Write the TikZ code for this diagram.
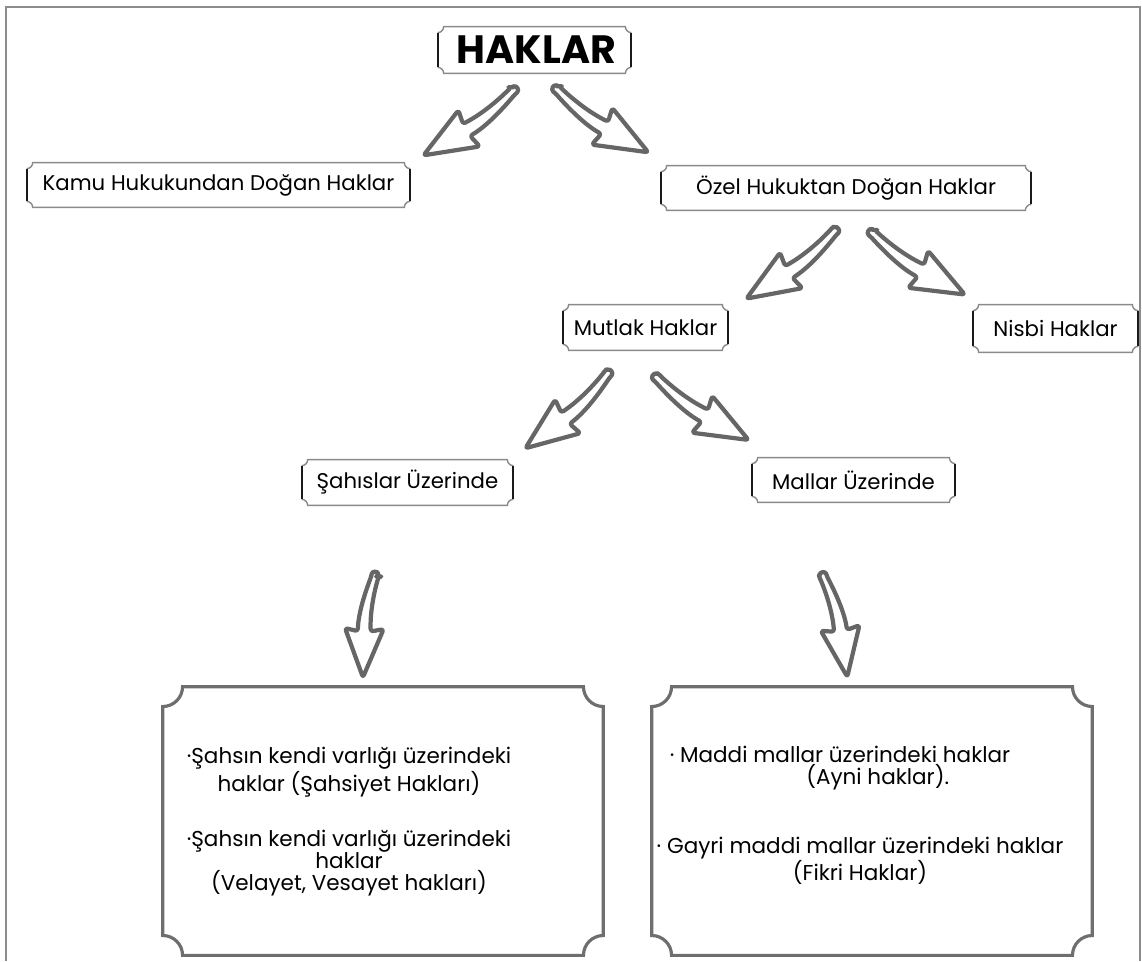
\documentclass[tikz,border=0pt]{standalone}
\usepackage{fontspec}
\setmainfont{Poppins}
\usetikzlibrary{calc}
\definecolor{arrgray}{HTML}{666666}
\definecolor{boxgray}{HTML}{6E6E6E}
\definecolor{thingray}{HTML}{8A8A8A}
\definecolor{sideblack}{HTML}{1A1A1A}
\tikzset{
  arrowline/.style={draw=arrgray, fill=white, line width=2.4pt, line join=round, rounded corners=1.5pt},
  txt/.style={inner sep=0pt, font=\fontsize{12.1}{14}\selectfont, text=black},
  slot/.style={inner sep=0pt, shape=rectangle},
  bigtxt/.style={inner sep=0pt, align=center, font=\fontsize{12.25}{12.4}\selectfont, text=black},
  topline/.style={draw=thingray, line width=0.8pt},
  sideline/.style={draw=sideblack, line width=1.2pt},
  bigline/.style={draw=boxgray, line width=1.8pt},
  frameline/.style={draw=black!45, line width=1pt}
}
\newcommand\hollowarr{%
  \draw[arrowline] (-53,9) .. controls (-30,3) and (-10,1) .. (7,2) -- (4,16) -- (57,-5)
    -- (4,-26) -- (7,-12) .. controls (-10,-12) and (-30,-7) .. (-53,1)
    .. controls (-59,2) and (-59,8) .. cycle;}
\newcommand\plaqsmall[1]{%
  \draw[topline] let \p1=(#1.north west), \p2=(#1.south east) in
    (\x1,\y1-3.4pt) arc[start angle=270,end angle=360,radius=3.4pt] -- (\x2-3.4pt,\y1)
    arc[start angle=180,end angle=270,radius=3.4pt]
    (\x2,\y2+3.4pt) arc[start angle=90,end angle=180,radius=3.4pt] -- (\x1+3.4pt,\y2)
    arc[start angle=0,end angle=90,radius=3.4pt];
  \draw[sideline] let \p1=(#1.north west), \p2=(#1.south east) in
    (\x1,\y1-3.4pt) -- (\x1,\y2+3.4pt) (\x2,\y1-3.4pt) -- (\x2,\y2+3.4pt);}
\newcommand\plaqbig[1]{%
  \draw[bigline] let \p1=(#1.north west), \p2=(#1.south east) in
    (\x1,\y1-11.3pt) arc[start angle=270,end angle=360,radius=11.3pt] -- (\x2-11.3pt,\y1)
    arc[start angle=180,end angle=270,radius=11.3pt] -- (\x2,\y2+11.3pt)
    arc[start angle=90,end angle=180,radius=11.3pt] -- (\x1+11.3pt,\y2)
    arc[start angle=0,end angle=90,radius=11.3pt] -- cycle;}
\begin{document}
\begin{tikzpicture}[x=0.02cm,y=0.02cm]
\useasboundingbox (0,0) rectangle (1142,-961);
\fill[white] (0,0) rectangle (1142,-961);
% outer frame
\draw[frameline] (6,-961) -- (6,-7) -- (1140,-7) -- (1140,-961);

% boxes
\node[slot, minimum width=3.86cm, minimum height=0.92cm] (haklar) at (534.5,-50)
  {\hspace*{0.2em}\fontsize{22.5}{24}\selectfont\bfseries HAKLAR};
\node[slot, txt, minimum width=7.66cm, minimum height=0.88cm] (kamu) at (218.5,-185) {Kamu Hukukundan Doğan Haklar};
\node[slot, txt, minimum width=7.4cm, minimum height=0.88cm] (ozel) at (846,-188) {Özel Hukuktan Doğan Haklar};
\node[slot, txt, minimum width=3.3cm, minimum height=0.9cm] (mutlak) at (645.5,-327.5) {Mutlak Haklar};
\node[slot, txt, minimum width=3.3cm, minimum height=0.94cm] (nisbi) at (1055.5,-328.5) {Nisbi Haklar};
\node[slot, txt, minimum width=4.22cm, minimum height=0.9cm] (sahis) at (407.5,-482.5) {Şahıslar Üzerinde};
\node[slot, txt, minimum width=4.06cm, minimum height=0.88cm] (mallar) at (853.5,-480) {Mallar Üzerinde};
\node[slot, minimum width=8.8cm, minimum height=5.36cm] (leftbox) at (383,-821) {};
\node[slot, minimum width=8.8cm, minimum height=5.36cm] (rightbox) at (872,-821) {};

\plaqsmall{haklar}
\plaqsmall{kamu}
\plaqsmall{ozel}
\plaqsmall{mutlak}
\plaqsmall{nisbi}
\plaqsmall{sahis}
\plaqsmall{mallar}
\plaqbig{leftbox}
\plaqbig{rightbox}

% texts in big boxes
\node[bigtxt] (ls1) at (349,-772) {·Şahsın kendi varlığı üzerindeki\\haklar (Şahsiyet Hakları)};
\node[bigtxt] (ls2) at (349,-863) {·Şahsın kendi varlığı üzerindeki\\haklar\\(Velayet, Vesayet hakları)};
\node[bigtxt] (rs1) at (840,-768) {· Maddi mallar üzerindeki haklar\\\hspace*{3.5em}(Ayni haklar).};
\node[bigtxt] (rs2) at (860,-861) {· Gayri maddi mallar üzerindeki haklar\\(Fikri Haklar)};

% hollow arrows
\begin{scope}[shift={(470,-122)}, rotate=210.6, yscale=-1] \hollowarr \end{scope}
\begin{scope}[shift={(601,-120)}, rotate=-29.3] \hollowarr \end{scope}
\begin{scope}[shift={(792,-264)}, rotate=212.2, yscale=-1] \hollowarr \end{scope}
\begin{scope}[shift={(917,-263)}, rotate=-28.4] \hollowarr \end{scope}
\begin{scope}[shift={(568,-410)}, rotate=216.9, yscale=-1] \hollowarr \end{scope}
\begin{scope}[shift={(701,-408)}, rotate=-28.9] \hollowarr \end{scope}
\begin{scope}[shift={(369,-625)}, rotate=-91.6, scale=0.92] \hollowarr \end{scope}
\begin{scope}[shift={(835,-625)}, rotate=-81.7, yscale=-1, scale=0.93] \hollowarr \end{scope}
\end{tikzpicture}
\end{document}
